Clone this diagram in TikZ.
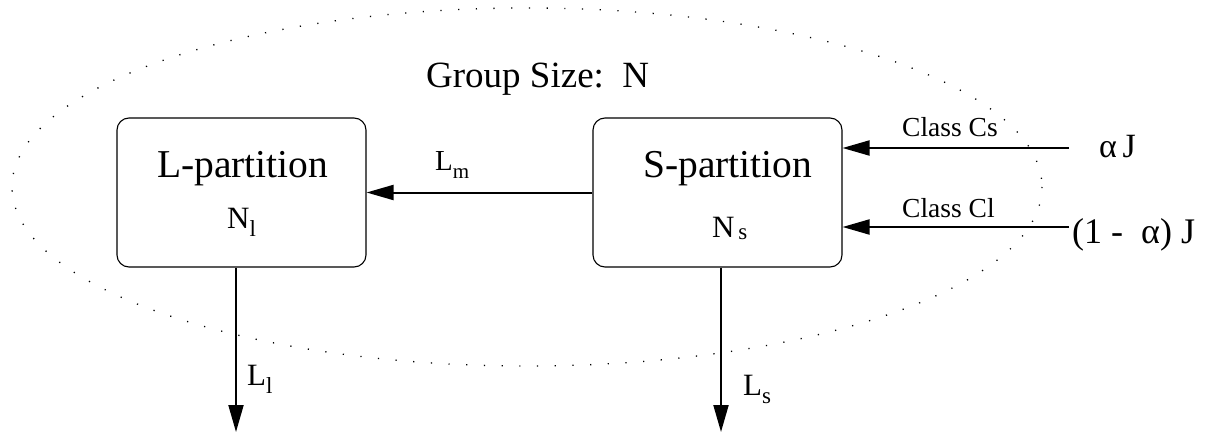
\documentclass[tikz,border=0pt]{standalone}
\usepackage{fontspec}
\setmainfont{Liberation Serif}
\usetikzlibrary{arrows.meta}
\newcommand{\fsz}[1]{\fontsize{#1}{#1}\selectfont}
% text with a lowered subscript: \lsub{base size}{sub size}{drop}{base}{sub}
\newcommand{\lsub}[5]{{\fsz{#1}#4}\raisebox{-#3pt}{\fsz{#2}#5}}
\begin{document}
\begin{tikzpicture}[x=1pt,y=-1pt,
  partbox/.style={draw,line width=1.1pt,rounded corners=12pt,minimum width=249pt,minimum height=149pt,inner sep=0pt},
  flow/.style={line width=2pt,-{Triangle[length=27pt,width=15pt]}},
  txt/.style={inner sep=0pt,anchor=base west},
  group/.style={line width=1.3pt,dash pattern=on 1.2pt off 16.5pt}]
\useasboundingbox (0,0) rectangle (1216,433);

% group boundary
\draw[group] (527,187) ellipse [x radius=515, y radius=179];
\node[txt] (gs) at (426,88) {\fsz{37}Group Size:\ \ N};

% partitions
\node[partbox] (L) at (241.5,192.5) {};
\node[partbox] (S) at (717.5,192.5) {};
\node[txt] (Lname) at (157,178) {\fsz{39.5}L-partition};
\node[txt] (Lsize) at (227,228) {\lsub{31}{23}{9}{N}{l}};
\node[txt] (Sname) at (643,178) {\fsz{39.5}S-partition};
\node[txt] (Ssize) at (712,237) {\lsub{31}{23}{2}{N}{\,s}};

% migration between partitions
\draw[flow] (S.west) -- (L.east);
\node[txt] (Lm) at (435,171) {\lsub{29}{21}{8}{L}{m}};

% arrivals
\coordinate (inCs) at (1069,148);
\coordinate (inCl) at (1069,227);
\draw[flow] (inCs) -- (S.east |- inCs);
\draw[flow] (inCl) -- (S.east |- inCl);
\node[txt] (cs) at (902,137) {\fsz{27.5}Class Cs};
\node[txt] (cl) at (902,218) {\fsz{27.5}Class Cl};
\node[txt] (aJ) at (1099,158) {\fsz{34}α\,J};
\node[txt] (bJ) at (1072,243) {\fsz{36}(1 -\ \ α) J};

% departures
\coordinate (outL) at (236,432);
\coordinate (outS) at (721,432);
\draw[flow] (L.south -| outL) -- (outL);
\draw[flow] (S.south -| outS) -- (outS);
\node[txt] (Ll) at (247,385) {\lsub{31}{23}{8}{L}{l}};
\node[txt] (Ls) at (743,395) {\lsub{31}{23}{8}{L}{s}};
\end{tikzpicture}
\end{document}
